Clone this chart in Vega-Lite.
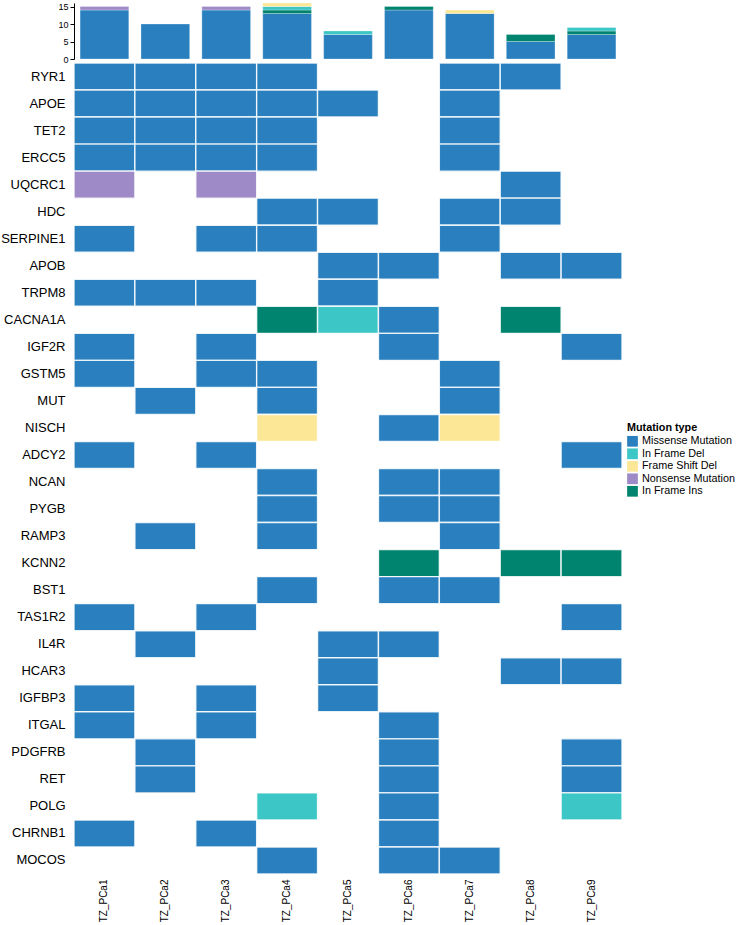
{
  "$schema": "https://vega.github.io/schema/vega-lite/v6.json",
  "padding": {"left": 0, "top": 2, "right": 0, "bottom": 0},
  "config": {
    "font": "Liberation Sans",
    "view": {"stroke": null},
    "concat": {"spacing": 4}
  },
  "datasets": {
    "burden": [
      {"sample": "TZ_PCa1", "type": "Missense Mutation", "count": 14},
      {"sample": "TZ_PCa1", "type": "Nonsense Mutation", "count": 1},
      {"sample": "TZ_PCa2", "type": "Missense Mutation", "count": 10},
      {"sample": "TZ_PCa3", "type": "Missense Mutation", "count": 14},
      {"sample": "TZ_PCa3", "type": "Nonsense Mutation", "count": 1},
      {"sample": "TZ_PCa4", "type": "Missense Mutation", "count": 13},
      {"sample": "TZ_PCa4", "type": "In Frame Ins", "count": 1},
      {"sample": "TZ_PCa4", "type": "In Frame Del", "count": 1},
      {"sample": "TZ_PCa4", "type": "Frame Shift Del", "count": 1},
      {"sample": "TZ_PCa5", "type": "Missense Mutation", "count": 7},
      {"sample": "TZ_PCa5", "type": "In Frame Del", "count": 1},
      {"sample": "TZ_PCa6", "type": "Missense Mutation", "count": 14},
      {"sample": "TZ_PCa6", "type": "In Frame Ins", "count": 1},
      {"sample": "TZ_PCa7", "type": "Missense Mutation", "count": 13},
      {"sample": "TZ_PCa7", "type": "Frame Shift Del", "count": 1},
      {"sample": "TZ_PCa8", "type": "Missense Mutation", "count": 5},
      {"sample": "TZ_PCa8", "type": "In Frame Ins", "count": 2},
      {"sample": "TZ_PCa9", "type": "Missense Mutation", "count": 7},
      {"sample": "TZ_PCa9", "type": "In Frame Ins", "count": 1},
      {"sample": "TZ_PCa9", "type": "In Frame Del", "count": 1}
    ],
    "cells": [
      {"gene": "RYR1", "sample": "TZ_PCa1", "type": "Missense Mutation"},
      {"gene": "RYR1", "sample": "TZ_PCa2", "type": "Missense Mutation"},
      {"gene": "RYR1", "sample": "TZ_PCa3", "type": "Missense Mutation"},
      {"gene": "RYR1", "sample": "TZ_PCa4", "type": "Missense Mutation"},
      {"gene": "RYR1", "sample": "TZ_PCa7", "type": "Missense Mutation"},
      {"gene": "RYR1", "sample": "TZ_PCa8", "type": "Missense Mutation"},
      {"gene": "APOE", "sample": "TZ_PCa1", "type": "Missense Mutation"},
      {"gene": "APOE", "sample": "TZ_PCa2", "type": "Missense Mutation"},
      {"gene": "APOE", "sample": "TZ_PCa3", "type": "Missense Mutation"},
      {"gene": "APOE", "sample": "TZ_PCa4", "type": "Missense Mutation"},
      {"gene": "APOE", "sample": "TZ_PCa5", "type": "Missense Mutation"},
      {"gene": "APOE", "sample": "TZ_PCa7", "type": "Missense Mutation"},
      {"gene": "TET2", "sample": "TZ_PCa1", "type": "Missense Mutation"},
      {"gene": "TET2", "sample": "TZ_PCa2", "type": "Missense Mutation"},
      {"gene": "TET2", "sample": "TZ_PCa3", "type": "Missense Mutation"},
      {"gene": "TET2", "sample": "TZ_PCa4", "type": "Missense Mutation"},
      {"gene": "TET2", "sample": "TZ_PCa7", "type": "Missense Mutation"},
      {"gene": "ERCC5", "sample": "TZ_PCa1", "type": "Missense Mutation"},
      {"gene": "ERCC5", "sample": "TZ_PCa2", "type": "Missense Mutation"},
      {"gene": "ERCC5", "sample": "TZ_PCa3", "type": "Missense Mutation"},
      {"gene": "ERCC5", "sample": "TZ_PCa4", "type": "Missense Mutation"},
      {"gene": "ERCC5", "sample": "TZ_PCa7", "type": "Missense Mutation"},
      {"gene": "UQCRC1", "sample": "TZ_PCa1", "type": "Nonsense Mutation"},
      {"gene": "UQCRC1", "sample": "TZ_PCa3", "type": "Nonsense Mutation"},
      {"gene": "UQCRC1", "sample": "TZ_PCa8", "type": "Missense Mutation"},
      {"gene": "HDC", "sample": "TZ_PCa4", "type": "Missense Mutation"},
      {"gene": "HDC", "sample": "TZ_PCa5", "type": "Missense Mutation"},
      {"gene": "HDC", "sample": "TZ_PCa7", "type": "Missense Mutation"},
      {"gene": "HDC", "sample": "TZ_PCa8", "type": "Missense Mutation"},
      {"gene": "SERPINE1", "sample": "TZ_PCa1", "type": "Missense Mutation"},
      {"gene": "SERPINE1", "sample": "TZ_PCa3", "type": "Missense Mutation"},
      {"gene": "SERPINE1", "sample": "TZ_PCa4", "type": "Missense Mutation"},
      {"gene": "SERPINE1", "sample": "TZ_PCa7", "type": "Missense Mutation"},
      {"gene": "APOB", "sample": "TZ_PCa5", "type": "Missense Mutation"},
      {"gene": "APOB", "sample": "TZ_PCa6", "type": "Missense Mutation"},
      {"gene": "APOB", "sample": "TZ_PCa8", "type": "Missense Mutation"},
      {"gene": "APOB", "sample": "TZ_PCa9", "type": "Missense Mutation"},
      {"gene": "TRPM8", "sample": "TZ_PCa1", "type": "Missense Mutation"},
      {"gene": "TRPM8", "sample": "TZ_PCa2", "type": "Missense Mutation"},
      {"gene": "TRPM8", "sample": "TZ_PCa3", "type": "Missense Mutation"},
      {"gene": "TRPM8", "sample": "TZ_PCa5", "type": "Missense Mutation"},
      {"gene": "CACNA1A", "sample": "TZ_PCa4", "type": "In Frame Ins"},
      {"gene": "CACNA1A", "sample": "TZ_PCa5", "type": "In Frame Del"},
      {"gene": "CACNA1A", "sample": "TZ_PCa6", "type": "Missense Mutation"},
      {"gene": "CACNA1A", "sample": "TZ_PCa8", "type": "In Frame Ins"},
      {"gene": "IGF2R", "sample": "TZ_PCa1", "type": "Missense Mutation"},
      {"gene": "IGF2R", "sample": "TZ_PCa3", "type": "Missense Mutation"},
      {"gene": "IGF2R", "sample": "TZ_PCa6", "type": "Missense Mutation"},
      {"gene": "IGF2R", "sample": "TZ_PCa9", "type": "Missense Mutation"},
      {"gene": "GSTM5", "sample": "TZ_PCa1", "type": "Missense Mutation"},
      {"gene": "GSTM5", "sample": "TZ_PCa3", "type": "Missense Mutation"},
      {"gene": "GSTM5", "sample": "TZ_PCa4", "type": "Missense Mutation"},
      {"gene": "GSTM5", "sample": "TZ_PCa7", "type": "Missense Mutation"},
      {"gene": "MUT", "sample": "TZ_PCa2", "type": "Missense Mutation"},
      {"gene": "MUT", "sample": "TZ_PCa4", "type": "Missense Mutation"},
      {"gene": "MUT", "sample": "TZ_PCa7", "type": "Missense Mutation"},
      {"gene": "NISCH", "sample": "TZ_PCa4", "type": "Frame Shift Del"},
      {"gene": "NISCH", "sample": "TZ_PCa6", "type": "Missense Mutation"},
      {"gene": "NISCH", "sample": "TZ_PCa7", "type": "Frame Shift Del"},
      {"gene": "ADCY2", "sample": "TZ_PCa1", "type": "Missense Mutation"},
      {"gene": "ADCY2", "sample": "TZ_PCa3", "type": "Missense Mutation"},
      {"gene": "ADCY2", "sample": "TZ_PCa9", "type": "Missense Mutation"},
      {"gene": "NCAN", "sample": "TZ_PCa4", "type": "Missense Mutation"},
      {"gene": "NCAN", "sample": "TZ_PCa6", "type": "Missense Mutation"},
      {"gene": "NCAN", "sample": "TZ_PCa7", "type": "Missense Mutation"},
      {"gene": "PYGB", "sample": "TZ_PCa4", "type": "Missense Mutation"},
      {"gene": "PYGB", "sample": "TZ_PCa6", "type": "Missense Mutation"},
      {"gene": "PYGB", "sample": "TZ_PCa7", "type": "Missense Mutation"},
      {"gene": "RAMP3", "sample": "TZ_PCa2", "type": "Missense Mutation"},
      {"gene": "RAMP3", "sample": "TZ_PCa4", "type": "Missense Mutation"},
      {"gene": "RAMP3", "sample": "TZ_PCa7", "type": "Missense Mutation"},
      {"gene": "KCNN2", "sample": "TZ_PCa6", "type": "In Frame Ins"},
      {"gene": "KCNN2", "sample": "TZ_PCa8", "type": "In Frame Ins"},
      {"gene": "KCNN2", "sample": "TZ_PCa9", "type": "In Frame Ins"},
      {"gene": "BST1", "sample": "TZ_PCa4", "type": "Missense Mutation"},
      {"gene": "BST1", "sample": "TZ_PCa6", "type": "Missense Mutation"},
      {"gene": "BST1", "sample": "TZ_PCa7", "type": "Missense Mutation"},
      {"gene": "TAS1R2", "sample": "TZ_PCa1", "type": "Missense Mutation"},
      {"gene": "TAS1R2", "sample": "TZ_PCa3", "type": "Missense Mutation"},
      {"gene": "TAS1R2", "sample": "TZ_PCa9", "type": "Missense Mutation"},
      {"gene": "IL4R", "sample": "TZ_PCa2", "type": "Missense Mutation"},
      {"gene": "IL4R", "sample": "TZ_PCa5", "type": "Missense Mutation"},
      {"gene": "IL4R", "sample": "TZ_PCa6", "type": "Missense Mutation"},
      {"gene": "HCAR3", "sample": "TZ_PCa5", "type": "Missense Mutation"},
      {"gene": "HCAR3", "sample": "TZ_PCa8", "type": "Missense Mutation"},
      {"gene": "HCAR3", "sample": "TZ_PCa9", "type": "Missense Mutation"},
      {"gene": "IGFBP3", "sample": "TZ_PCa1", "type": "Missense Mutation"},
      {"gene": "IGFBP3", "sample": "TZ_PCa3", "type": "Missense Mutation"},
      {"gene": "IGFBP3", "sample": "TZ_PCa5", "type": "Missense Mutation"},
      {"gene": "ITGAL", "sample": "TZ_PCa1", "type": "Missense Mutation"},
      {"gene": "ITGAL", "sample": "TZ_PCa3", "type": "Missense Mutation"},
      {"gene": "ITGAL", "sample": "TZ_PCa6", "type": "Missense Mutation"},
      {"gene": "PDGFRB", "sample": "TZ_PCa2", "type": "Missense Mutation"},
      {"gene": "PDGFRB", "sample": "TZ_PCa6", "type": "Missense Mutation"},
      {"gene": "PDGFRB", "sample": "TZ_PCa9", "type": "Missense Mutation"},
      {"gene": "RET", "sample": "TZ_PCa2", "type": "Missense Mutation"},
      {"gene": "RET", "sample": "TZ_PCa6", "type": "Missense Mutation"},
      {"gene": "RET", "sample": "TZ_PCa9", "type": "Missense Mutation"},
      {"gene": "POLG", "sample": "TZ_PCa4", "type": "In Frame Del"},
      {"gene": "POLG", "sample": "TZ_PCa6", "type": "Missense Mutation"},
      {"gene": "POLG", "sample": "TZ_PCa9", "type": "In Frame Del"},
      {"gene": "CHRNB1", "sample": "TZ_PCa1", "type": "Missense Mutation"},
      {"gene": "CHRNB1", "sample": "TZ_PCa3", "type": "Missense Mutation"},
      {"gene": "CHRNB1", "sample": "TZ_PCa6", "type": "Missense Mutation"},
      {"gene": "MOCOS", "sample": "TZ_PCa4", "type": "Missense Mutation"},
      {"gene": "MOCOS", "sample": "TZ_PCa6", "type": "Missense Mutation"},
      {"gene": "MOCOS", "sample": "TZ_PCa7", "type": "Missense Mutation"}
    ]
  },
  "bounds": "flush",
  "resolve": {"scale": {"x": "independent", "color": "independent"}},
  "vconcat": [
    {
      "width": 548,
      "height": 56,
      "data": {"name": "burden"},
      "transform": [
        {"calculate": "indexof(['Missense Mutation','In Frame Ins','Nonsense Mutation','In Frame Del','Frame Shift Del'], datum.type)", "as": "stackRank"}
      ],
      "mark": {"type": "bar", "stroke": "#ffffff", "strokeWidth": 0.4, "strokeOpacity": 0.7},
      "encoding": {
        "x": {
          "field": "sample",
          "type": "nominal",
          "scale": {"domain": ["TZ_PCa1", "TZ_PCa2", "TZ_PCa3", "TZ_PCa4", "TZ_PCa5", "TZ_PCa6", "TZ_PCa7", "TZ_PCa8", "TZ_PCa9"], "paddingInner": 0.2, "paddingOuter": 0.1},
          "axis": null
        },
        "y": {
          "field": "count",
          "type": "quantitative",
          "stack": "zero",
          "scale": {"domain": [0, 16], "nice": false},
          "axis": {"values": [0, 5, 10, 15], "title": null, "grid": false, "tickSize": 4, "labelPadding": 2, "labelFontSize": 9, "labelColor": "#000000", "domainColor": "#000000", "tickColor": "#000000"}
        },
        "color": {
          "field": "type",
          "type": "nominal",
          "scale": {
            "domain": ["Missense Mutation", "In Frame Del", "Frame Shift Del", "Nonsense Mutation", "In Frame Ins"],
            "range": ["#2A80BE", "#3CC6C6", "#FBE795", "#9D8AC6", "#00846F"]
          },
          "legend": null
        },
        "order": {"field": "stackRank", "type": "quantitative"}
      }
    },
    {
      "width": 548,
      "height": 811,
      "data": {"name": "cells"},
      "mark": {"type": "rect", "stroke": "#ffffff", "strokeWidth": 1.4, "strokeOpacity": 0.85},
      "encoding": {
        "x": {
          "field": "sample",
          "type": "nominal",
          "scale": {"domain": ["TZ_PCa1", "TZ_PCa2", "TZ_PCa3", "TZ_PCa4", "TZ_PCa5", "TZ_PCa6", "TZ_PCa7", "TZ_PCa8", "TZ_PCa9"], "paddingInner": 0, "paddingOuter": 0},
          "axis": {"orient": "bottom", "title": null, "labelAngle": -90, "ticks": false, "domain": false, "labelPadding": 5, "labelFontSize": 10, "labelColor": "#000000"}
        },
        "y": {
          "field": "gene",
          "type": "nominal",
          "scale": {"domain": ["RYR1", "APOE", "TET2", "ERCC5", "UQCRC1", "HDC", "SERPINE1", "APOB", "TRPM8", "CACNA1A", "IGF2R", "GSTM5", "MUT", "NISCH", "ADCY2", "NCAN", "PYGB", "RAMP3", "KCNN2", "BST1", "TAS1R2", "IL4R", "HCAR3", "IGFBP3", "ITGAL", "PDGFRB", "RET", "POLG", "CHRNB1", "MOCOS"], "paddingInner": 0, "paddingOuter": 0},
          "axis": {"title": null, "ticks": false, "domain": false, "labelPadding": 9, "labelFontSize": 13, "labelColor": "#000000"}
        },
        "color": {
          "field": "type",
          "type": "nominal",
          "scale": {
            "domain": ["Missense Mutation", "In Frame Del", "Frame Shift Del", "Nonsense Mutation", "In Frame Ins"],
            "range": ["#2A80BE", "#3CC6C6", "#FBE795", "#9D8AC6", "#00846F"]
          },
          "legend": {
            "title": "Mutation type",
            "orient": "none",
            "legendX": 553,
            "legendY": 359,
            "titleFontSize": 10.8,
            "titleFontWeight": "bold",
            "titleColor": "#000000",
            "titlePadding": 3,
            "labelFontSize": 10.8,
            "labelColor": "#000000",
            "labelOffset": 4,
            "symbolType": "square",
            "symbolSize": 115,
            "symbolStrokeWidth": 0,
            "rowPadding": 0.5
          }
        }
      }
    }
  ]
}
